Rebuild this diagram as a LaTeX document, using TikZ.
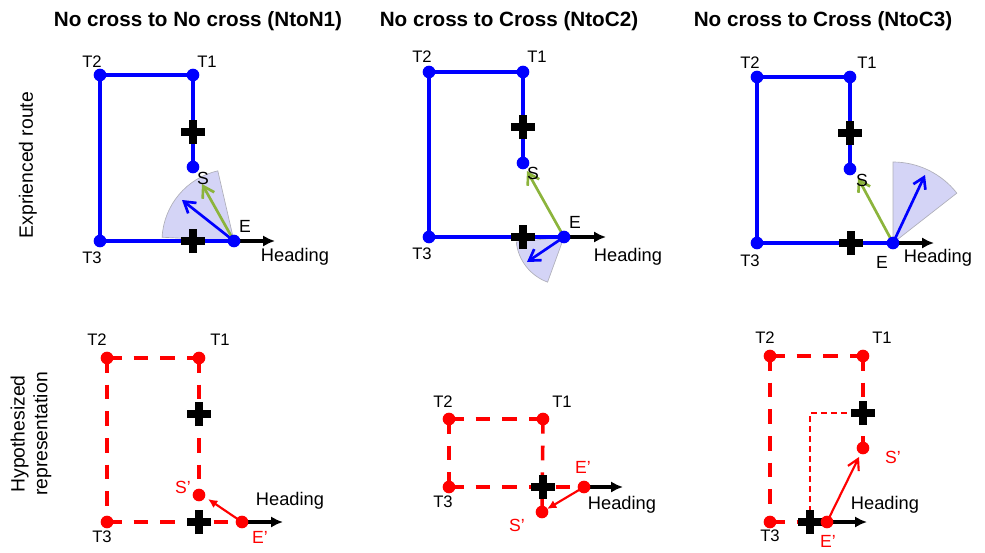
\documentclass[tikz,border=0pt]{standalone}
\usepackage{fontspec}
\setmainfont{Liberation Sans}
\usetikzlibrary{arrows.meta}
\definecolor{rtblue}{RGB}{0,0,255}
\definecolor{rtred}{RGB}{255,0,0}
\definecolor{rtgreen}{RGB}{140,180,60}
\definecolor{wedgefill}{RGB}{212,212,246}
\definecolor{wedgeline}{RGB}{175,175,185}
\tikzset{
  bdot/.style={circle,fill=rtblue,inner sep=0pt,minimum size=9.5pt},
  rdot/.style={circle,fill=rtred,inner sep=0pt,minimum size=9.5pt},
  route/.style={draw=rtblue,line width=3pt},
  hroute/.style={draw=rtred,line width=2.7pt,dash pattern=on 11pt off 9pt},
  thinroute/.style={draw=rtred,line width=1.1pt,dash pattern=on 4.5pt off 3pt},
  wedge/.style={fill=wedgefill,draw=wedgeline,line width=0.5pt},
  headarrow/.style={draw=black,line width=3pt,-{Latex[length=9pt,width=8.5pt]}},
  barrow/.style={draw=rtblue,line width=2pt,-{Straight Barb[length=8pt,width=10pt]}},
  garrow/.style={draw=rtgreen,line width=2pt,-{Straight Barb[length=8pt,width=10pt]}},
  rarrow/.style={draw=rtred,line width=1.6pt,-{Latex[length=7pt,width=6.5pt]}},
  rbarrow/.style={draw=rtred,line width=1.6pt,-{Straight Barb[length=8pt,width=9pt]}},
  tlbl/.style={font=\fontsize{12.5}{14}\selectfont,inner sep=0pt},
  slbl/.style={font=\fontsize{13.2}{15}\selectfont,inner sep=0pt},
  rlbl/.style={font=\fontsize{13.2}{15}\selectfont,inner sep=0pt,text=rtred},
  hlbl/.style={font=\fontsize{13.7}{16}\selectfont,inner sep=0pt},
  title/.style={font=\bfseries\fontsize{15.5}{18}\selectfont,inner sep=0pt},
  side/.style={font=\fontsize{14.5}{17.2}\selectfont,inner sep=0pt,rotate=90,align=center},
  crossmark/.pic={\draw[line width=6.5pt,black] (-12,0)--(12,0) (0,-12)--(0,12);}
}
\begin{document}
\begin{tikzpicture}[x=0.75pt,y=0.75pt]
\useasboundingbox (0,0) rectangle (985,-553);

% titles and side labels
\node[title] (tt1) at (198,-21) {No cross to No cross (NtoN1)};
\node[title] (tt2) at (509,-21) {No cross to Cross (NtoC2)};
\node[title] (tt3) at (823,-21) {No cross to Cross (NtoC3)};
\node[side] (sd1) at (28,-165) {Exprienced route};
\node[side] (sd2) at (31,-434) {Hypothesized\\representation};

% ================= Panel 1 =================
\coordinate (aT2) at (100,-75);  \coordinate (aT1) at (193,-75);
\coordinate (aX1) at (193,-132); \coordinate (aS) at (193,-167);
\coordinate (aT3) at (100,-241); \coordinate (aE) at (234,-241);
\coordinate (aX2) at (193,-241); \coordinate (aH) at (275,-241);
\coordinate (aBt) at (182,-200); \coordinate (aGt) at (202,-184);
\filldraw[wedge] (aE) -- ++(103:72) arc[start angle=103,end angle=177,radius=72] -- cycle;
\draw[route] (aT3) -- (aT2) -- (aT1) -- (aS);
\draw[route] (aT3) -- (aE);
\pic at (aX1) {crossmark};
\pic at (aX2) {crossmark};
\draw[headarrow] (aE) -- (aH);
\draw[barrow] (aE) -- (aBt);
\draw[garrow] (aE) -- (aGt);
\node[bdot] (aT2d) at (aT2) {}; \node[bdot] (aT1d) at (aT1) {};
\node[bdot] (aSd) at (aS) {};   \node[bdot] (aT3d) at (aT3) {};
\node[bdot] (aEd) at (aE) {};
\node[tlbl] (aT2l) at (92,-62) {T2};
\node[tlbl] (aT1l) at (207,-62) {T1};
\node[tlbl] (aT3l) at (92,-258) {T3};
\node[slbl] (aEl) at (245,-226) {E};
\node[slbl] (aSl) at (203,-178) {S};
\node[hlbl] (aHl) at (295,-257) {Heading};

% ================= Panel 2 =================
\coordinate (bT2) at (429,-72);  \coordinate (bT1) at (523,-72);
\coordinate (bX1) at (523,-127); \coordinate (bS) at (523,-163);
\coordinate (bT3) at (429,-237); \coordinate (bE) at (564,-237);
\coordinate (bX2) at (523,-237); \coordinate (bH) at (606,-237);
\coordinate (bBt) at (527,-262); \coordinate (bGt) at (527,-171);
\filldraw[wedge] (bE) -- ++(186:48) arc[start angle=186,end angle=250,radius=48] -- cycle;
\draw[route] (bT3) -- (bT2) -- (bT1) -- (bS);
\draw[route] (bT3) -- (bE);
\pic at (bX1) {crossmark};
\pic at (bX2) {crossmark};
\draw[headarrow] (bE) -- (bH);
\draw[barrow] (bE) -- (bBt);
\draw[garrow] (bE) -- (bGt);
\node[bdot] (bT2d) at (bT2) {}; \node[bdot] (bT1d) at (bT1) {};
\node[bdot] (bSd) at (bS) {};   \node[bdot] (bT3d) at (bT3) {};
\node[bdot] (bEd) at (bE) {};
\node[tlbl] (bT2l) at (422,-57) {T2};
\node[tlbl] (bT1l) at (537,-57) {T1};
\node[tlbl] (bT3l) at (422,-254) {T3};
\node[slbl] (bEl) at (575,-222) {E};
\node[slbl] (bSl) at (533,-173) {S};
\node[hlbl] (bHl) at (628,-257) {Heading};

% ================= Panel 3 =================
\coordinate (cT2) at (757,-77);  \coordinate (cT1) at (850,-77);
\coordinate (cX1) at (850,-133); \coordinate (cS) at (850,-169);
\coordinate (cT3) at (757,-243); \coordinate (cE) at (893,-243);
\coordinate (cX2) at (851,-243); \coordinate (cH) at (934,-243);
\coordinate (cBt) at (925,-175); \coordinate (cGt) at (858,-178);
\filldraw[wedge] (cE) -- ++(38:81) arc[start angle=38,end angle=90,radius=81] -- cycle;
\draw[route] (cT3) -- (cT2) -- (cT1) -- (cS);
\draw[route] (cT3) -- (cE);
\pic at (cX1) {crossmark};
\pic at (cX2) {crossmark};
\draw[headarrow] (cE) -- (cH);
\draw[barrow] (cE) -- (cBt);
\draw[garrow] (cE) -- (cGt);
\node[bdot] (cT2d) at (cT2) {}; \node[bdot] (cT1d) at (cT1) {};
\node[bdot] (cSd) at (cS) {};   \node[bdot] (cT3d) at (cT3) {};
\node[bdot] (cEd) at (cE) {};
\node[tlbl] (cT2l) at (750,-63) {T2};
\node[tlbl] (cT1l) at (867,-63) {T1};
\node[tlbl] (cT3l) at (750,-261) {T3};
\node[slbl] (cEl) at (882,-262) {E};
\node[slbl] (cSl) at (862,-180) {S};
\node[hlbl] (cHl) at (938,-258) {Heading};

% ================= Panel 4 =================
\coordinate (dT2) at (107,-358); \coordinate (dT1) at (199,-358);
\coordinate (dX1) at (199,-414); \coordinate (dS) at (199,-495);
\coordinate (dT3) at (107,-522); \coordinate (dE) at (242,-522);
\coordinate (dX2) at (199,-522); \coordinate (dH) at (283,-522);
\coordinate (dRt) at (208,-499);
\draw[hroute] (dT2) -- (dT1);
\draw[hroute] (dT1) -- (dS);
\draw[hroute] (dT2) -- (dT3);
\draw[hroute] (dT3) -- (dE);
\pic at (dX1) {crossmark};
\pic at (dX2) {crossmark};
\draw[headarrow] (dE) -- (dH);
\draw[rarrow] (dE) -- (dRt);
\node[rdot] (dT2d) at (dT2) {}; \node[rdot] (dT1d) at (dT1) {};
\node[rdot] (dSd) at (dS) {};   \node[rdot] (dT3d) at (dT3) {};
\node[rdot] (dEd) at (dE) {};
\node[tlbl] (dT2l) at (97,-340) {T2};
\node[tlbl] (dT1l) at (220,-340) {T1};
\node[tlbl] (dT3l) at (102,-537) {T3};
\node[rlbl] (dSl) at (183,-487) {S'};
\node[rlbl] (dEl) at (260,-537) {E'};
\node[hlbl] (dHl) at (290,-501) {Heading};

% ================= Panel 5 =================
\coordinate (eT2) at (449,-419); \coordinate (eT1) at (543,-419);
\coordinate (eT3) at (449,-487); \coordinate (eX) at (543,-487);
\coordinate (eE) at (584,-487);  \coordinate (eS) at (542,-512);
\coordinate (eH) at (623,-487);  \coordinate (eRt) at (547,-509);
\draw[hroute] (eT2) -- (eT1);
\draw[hroute] (eT1) -- (eS);
\draw[hroute] (eT2) -- (eT3);
\draw[hroute] (eT3) -- (eE);
\pic at (eX) {crossmark};
\draw[headarrow] (eE) -- (eH);
\draw[rarrow] (eE) -- (eRt);
\node[rdot] (eT2d) at (eT2) {}; \node[rdot] (eT1d) at (eT1) {};
\node[rdot] (eSd) at (eS) {};   \node[rdot] (eT3d) at (eT3) {};
\node[rdot] (eEd) at (eE) {};
\node[tlbl] (eT2l) at (443,-402) {T2};
\node[tlbl] (eT1l) at (562,-402) {T1};
\node[tlbl] (eT3l) at (443,-502) {T3};
\node[rlbl] (eEl) at (583,-467) {E'};
\node[rlbl] (eSl) at (517,-525) {S'};
\node[hlbl] (eHl) at (622,-505) {Heading};

% ================= Panel 6 =================
\coordinate (fT2) at (770,-356); \coordinate (fT1) at (863,-356);
\coordinate (fX1) at (863,-413); \coordinate (fS) at (863,-448);
\coordinate (fT3) at (770,-522); \coordinate (fX2) at (810,-522);
\coordinate (fE) at (827,-522);  \coordinate (fH) at (867,-522);
\coordinate (fC) at (810,-413);  \coordinate (fRt) at (859,-457);
\draw[hroute] (fT2) -- (fT1);
\draw[hroute] (fT1) -- (fS);
\draw[hroute] (fT2) -- (fT3);
\draw[hroute] (fT3) -- (fE);
\draw[thinroute] (fX2) -- (fC) -- (fX1);
\pic at (fX1) {crossmark};
\pic at (fX2) {crossmark};
\draw[headarrow] (fE) -- (fH);
\draw[rbarrow] (fE) -- (fRt);
\node[rdot] (fT2d) at (fT2) {}; \node[rdot] (fT1d) at (fT1) {};
\node[rdot] (fSd) at (fS) {};   \node[rdot] (fT3d) at (fT3) {};
\node[rdot] (fEd) at (fE) {};
\node[tlbl] (fT2l) at (765,-338) {T2};
\node[tlbl] (fT1l) at (882,-338) {T1};
\node[tlbl] (fT3l) at (770,-536) {T3};
\node[rlbl] (fSl) at (893,-457) {S'};
\node[rlbl] (fEl) at (828,-541) {E'};
\node[hlbl] (fHl) at (885,-505) {Heading};
\end{tikzpicture}
\end{document}
